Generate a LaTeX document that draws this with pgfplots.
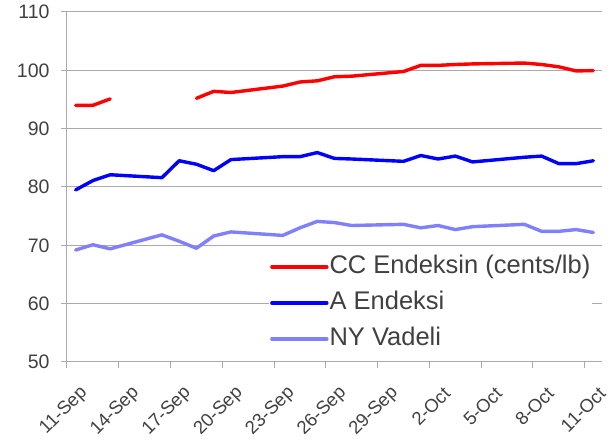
\documentclass[border=0pt]{standalone}
\usepackage{fontspec}
\setmainfont{Liberation Sans}
\usepackage{pgfplots}
\pgfplotsset{compat=1.18}
\definecolor{txt}{RGB}{64,64,64}
\definecolor{grd}{RGB}{170,170,170}
\definecolor{ccred}{RGB}{255,0,0}
\definecolor{ablue}{RGB}{0,0,255}
\definecolor{nyblue}{RGB}{128,128,255}
\begin{document}
\begin{tikzpicture}
\useasboundingbox (-67pt,-80pt) rectangle (547pt,362pt);
\begin{axis}[
  at={(0pt,0pt)}, anchor=south west,
  scale only axis, width=535pt, height=350pt,
  xmin=-0.5, xmax=30.5, ymin=50, ymax=110,
  ytick={50,60,...,110},
  xtick={-0.5,2.5,...,29.5},
  xticklabels={11-Sep,14-Sep,17-Sep,20-Sep,23-Sep,26-Sep,29-Sep,2-Oct,5-Oct,8-Oct,11-Oct},
  axis x line*=bottom, axis y line*=left,
  axis line style={draw=grd, line width=1pt},
  ymajorgrids, major grid style={draw=grd, line width=1pt},
  tick align=outside, major tick length=6pt,
  tick style={draw=grd, line width=1pt},
  every axis plot/.append style={line join=round, line cap=round},
  unbounded coords=jump,
  /pgf/number format/assume math mode=true,
  yticklabel style={font=\fontsize{19.5}{20}\selectfont, text=txt, xshift=-8pt},
  xticklabel style={font=\fontsize{18.5}{19}\selectfont, text=txt, xshift=20pt, yshift=-20pt, rotate=45, anchor=east},
  legend style={draw=none, fill=white, at={(rel axis cs:0.3775,0.311)}, anchor=north west,
    font=\fontsize{25.5}{25.5}\selectfont, text=txt, inner sep=1pt, row sep=11pt,
    nodes={inner sep=1pt, text height=18pt, text depth=5pt}},
  legend cell align=left,
  legend image code/.code={\draw[#1, line cap=round] (0pt,0pt) -- (55pt,0pt);},
]
\addplot[ccred, line width=3.4pt] coordinates {
(0,94.0) (1,94.0) (2,95.1) (5,nan) (6,nan) (7,95.2) (8,96.4) (9,96.2)
(12,97.3) (13,98.0) (14,98.2) (15,98.9) (16,99.0) (19,99.8) (20,100.85)
(21,100.85) (22,101.0) (23,101.1) (26,101.25) (27,101.0) (28,100.6) (29,99.9) (30,99.95)};
\addlegendentry{CC Endeksin (cents/lb)}
\addplot[ablue, line width=3.4pt] coordinates {
(0,79.5) (1,81.1) (2,82.1) (5,81.6) (6,84.5) (7,83.9) (8,82.8) (9,84.7)
(12,85.2) (13,85.2) (14,85.9) (15,84.9) (16,84.8) (19,84.4) (20,85.4)
(21,84.8) (22,85.3) (23,84.3) (26,85.1) (27,85.3) (28,84.0) (29,84.0) (30,84.5)};
\addlegendentry{A Endeksi}
\addplot[nyblue, line width=3.4pt] coordinates {
(0,69.2) (1,70.1) (2,69.4) (5,71.8) (6,70.7) (7,69.5) (8,71.6) (9,72.3)
(12,71.7) (13,73.0) (14,74.1) (15,73.9) (16,73.4) (19,73.6) (20,73.0)
(21,73.4) (22,72.7) (23,73.2) (26,73.6) (27,72.4) (28,72.4) (29,72.7) (30,72.2)};
\addlegendentry{NY Vadeli}
\end{axis}
\end{tikzpicture}
\end{document}
